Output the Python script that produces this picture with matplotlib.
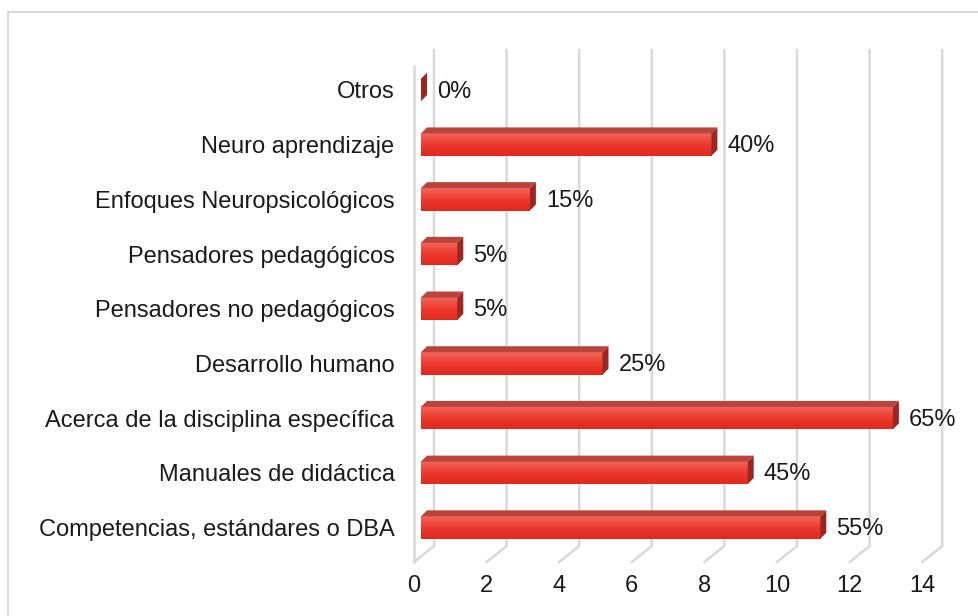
import matplotlib.pyplot as plt
import numpy as np
from matplotlib.patches import Polygon, Rectangle
from matplotlib.colors import LinearSegmentedColormap

categories = ["Competencias, estándares o DBA", "Manuales de didáctica",
              "Acerca de la disciplina específica", "Desarrollo humano",
              "Pensadores no pedagógicos", "Pensadores pedagógicos",
              "Enfoques Neuropsicológicos", "Neuro aprendizaje", "Otros"]
values = [11, 9, 13, 5, 1, 1, 3, 8, 0]
labels = ["55%", "45%", "65%", "25%", "5%", "5%", "15%", "40%", "0%"]
xticks = [0, 2, 4, 6, 8, 10, 12, 14]

plt.rcParams['font.family'] = ['Liberation Sans', 'DejaVu Sans']

W, H = 979, 616
fig = plt.figure(figsize=(W / 100, H / 100), dpi=100)

# outer frame
fig.patches.append(Rectangle((8 / W, -0.1), 1.2, (H - 12) / H + 0.1,
                             transform=fig.transFigure, fill=False,
                             edgecolor="#d9d9d9", linewidth=1.5))

ax = fig.add_axes([414 / W, (H - 562) / H, 546 / W, 512 / H])
xmax = 546 / 36.3
ylo, yhi = -0.63, 8.73
grid = "#d9d9d9"

# wall depth offsets (data units)
dxw, dyw = 20 / 36.3, 16 / 54.7

for k in xticks:
    ax.plot([k, k + dxw, k + dxw], [ylo, ylo + dyw, yhi], color=grid, lw=1.8,
            clip_on=False, zorder=1)
ax.plot([0, 0], [ylo, yhi - dyw], color=grid, lw=1.8, clip_on=False, zorder=1)

# bars
bx0 = 7 / 36.3
h = 0.41
ddx, ddy = 6 / 36.3, 6 / 54.7
cmap = LinearSegmentedColormap.from_list("bar", ["#e2281d", "#ec3a2e", "#f4675c"])
grad = np.linspace(0, 1, 64).reshape(-1, 1)

for i, (v, lab) in enumerate(zip(values, labels)):
    x1 = bx0 + v
    yb, yt = i - h / 2, i + h / 2
    if v > 0:
        ax.imshow(grad, extent=[bx0, x1, yb, yt], origin="lower", cmap=cmap,
                  aspect="auto", zorder=3, interpolation="bilinear")
        ax.add_patch(Polygon([(bx0, yt), (x1, yt), (x1 + ddx, yt + ddy),
                              (bx0 + ddx, yt + ddy)], closed=True,
                             facecolor="#b9443c", edgecolor="none", zorder=3))
    ax.add_patch(Polygon([(x1, yb), (x1 + ddx, yb + ddy), (x1 + ddx, yt + ddy),
                          (x1, yt)], closed=True, facecolor="#9a2820",
                         edgecolor="none", zorder=3))
    ax.text(x1 + ddx + 0.28, i - 0.03, lab, va="center", ha="left",
            fontsize=17, color="#1a1a1a")

ax.set_xlim(0, xmax)
ax.set_ylim(ylo, yhi)
ax.set_yticks(range(len(categories)))
ax.set_yticklabels(categories)
ax.set_xticks(xticks)
ax.tick_params(axis="y", length=0, pad=14, labelsize=17, labelcolor="#1a1a1a")
ax.tick_params(axis="x", length=0, pad=9, labelsize=17, labelcolor="#1a1a1a")
for s in ax.spines.values():
    s.set_visible(False)
ax.set_facecolor("none")

fig.savefig("out.png", dpi=100)
